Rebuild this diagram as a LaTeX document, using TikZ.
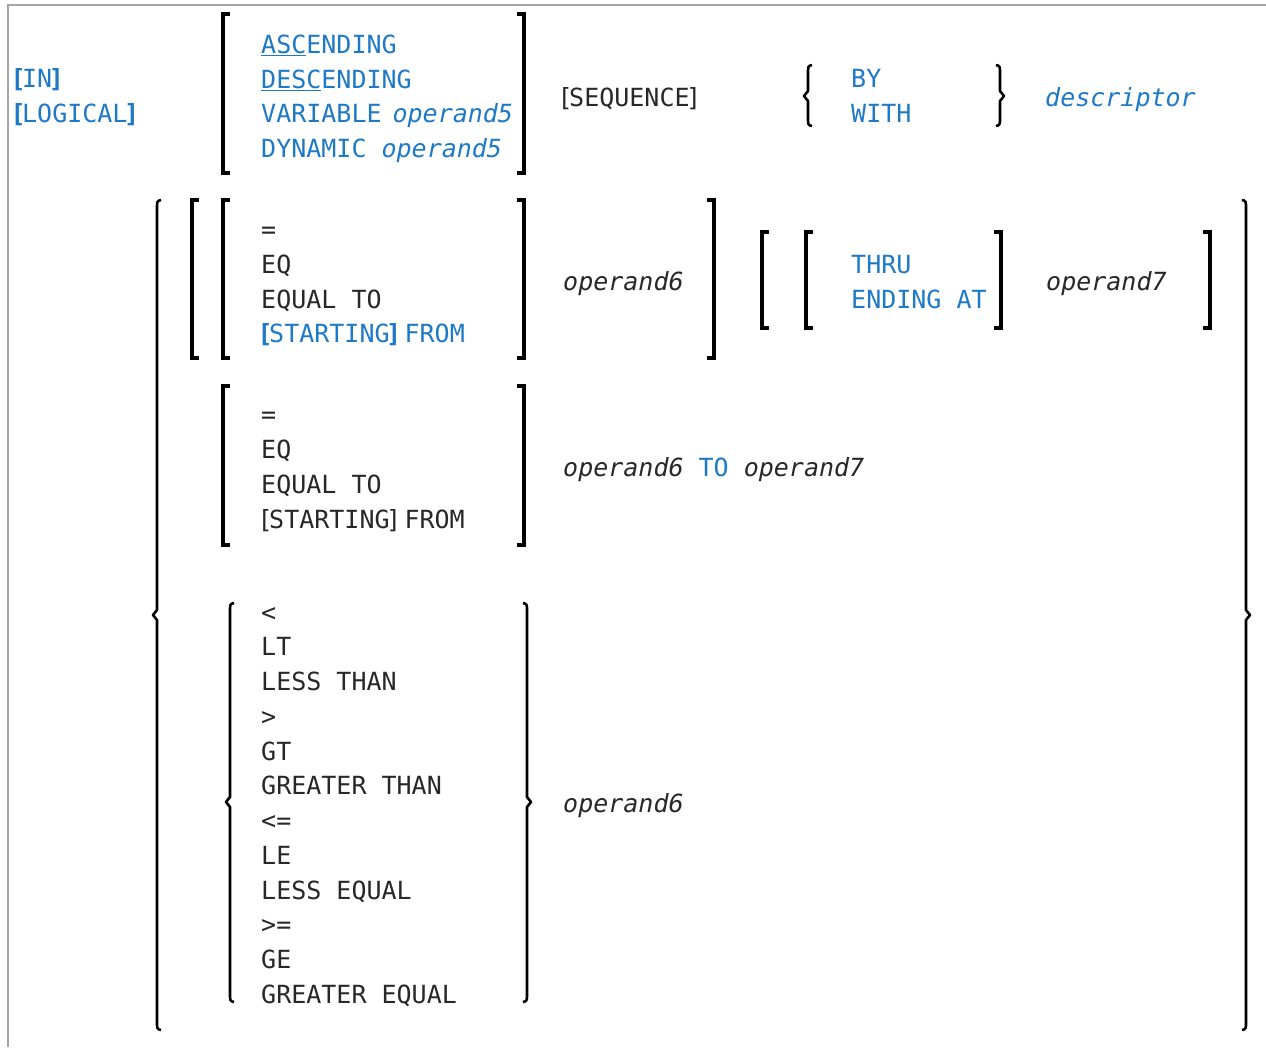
\documentclass[tikz,border=0pt]{standalone}
\usepackage{fontspec}
\setmonofont{DejaVu Sans Mono}
\definecolor{kw}{RGB}{30,122,198}
\definecolor{txt}{RGB}{40,40,40}
\definecolor{frame}{RGB}{165,165,165}
\newcommand\opb{\makebox[8pt][c]{[}}
\newcommand\clb{\makebox[8pt][c]{]}}
\newcommand\opbb{\makebox[8pt][c]{\bfseries[}}
\newcommand\clbb{\makebox[8pt][c]{\bfseries]}}
\newcommand\ulx[1]{\underline{#1}}
% brackets: x, top, bottom
\newcommand\mylb[3]{\draw[brk] ({#1+7},#2) -- (#1,#2) -- (#1,#3) -- ({#1+7},#3);}
\newcommand\myrb[3]{\draw[brk] ({#1-7},#2) -- (#1,#2) -- (#1,#3) -- ({#1-7},#3);}
% braces: x, top, middle, bottom
\newcommand\mylbr[4]{\draw[brc] ({#1+4},#2) .. controls (#1,{#2+1}) .. (#1,{#2+9}) -- (#1,{#3-5}) -- ({#1-4},#3) -- (#1,{#3+5}) -- (#1,{#4-9}) .. controls (#1,{#4-1}) .. ({#1+4},#4);}
\newcommand\myrbr[4]{\draw[brc] ({#1-4},#2) .. controls (#1,{#2+1}) .. (#1,{#2+9}) -- (#1,{#3-5}) -- ({#1+4},#3) -- (#1,{#3+5}) -- (#1,{#4-9}) .. controls (#1,{#4-1}) .. ({#1-4},#4);}
\begin{document}
\begin{tikzpicture}[x=1pt,y=-1pt,
  t/.style={anchor=base west, inner sep=0pt, font=\fontsize{25}{30}\selectfont\ttfamily, text=txt},
  k/.style={t, text=kw},
  it/.style={t, font=\fontsize{25}{30}\selectfont\ttfamily\itshape},
  kit/.style={it, text=kw},
  brk/.style={line width=3.2pt, line join=miter, draw=black},
  brc/.style={line width=2.6pt, line join=round, draw=black}]
\useasboundingbox (0,0) rectangle (1266,1047);
\fill[white] (0,0) rectangle (1266,1047);
\draw[frame, line width=2pt] (8,1047) -- (8,5) -- (1266,5);

% ---- row 1
\node[k] (in) at (14,87) {\opbb IN\clbb};
\node[k] (logical) at (14,122) {\opbb LOGICAL\clbb};
\mylb{223}{14}{173}
\myrb{524}{14}{173}
\node[k] (asc) at (261,53) {\ulx{ASC}ENDING};
\node[k] (desc) at (261,88) {\ulx{DESC}ENDING};
\node[k] (var) at (261,122) {VARIABLE\kern11pt\textit{operand5}};
\node[k] (dyn) at (261,157) {DYNAMIC \textit{operand5}};
\node[t] (seq) at (561,106) {\opb SEQUENCE\clb};
\mylbr{808}{65}{96}{126}
\myrbr{1000}{65}{96}{126}
\node[k] (by) at (851,87) {BY};
\node[k] (with) at (851,122) {WITH};
\node[kit] (descr) at (1045,106) {descriptor};

% ---- outer brace
\mylbr{157}{200}{615}{1030}
\myrbr{1246}{200}{615}{1030}

% ---- row 2a
\mylb{192}{200}{358}
\mylb{223}{200}{358}
\myrb{524}{200}{358}
\myrb{714}{200}{358}
\node[t] (eqa) at (261,238) {=};
\node[t] (eqb) at (261,273) {EQ};
\node[t] (eqc) at (261,308) {EQUAL TO};
\node[k] (sfa) at (261,342) {\opbb STARTING\clbb\kern7pt FROM};
\node[it] (op6a) at (563,290) {operand6};
\mylb{762}{232}{328}
\mylb{806}{232}{328}
\node[k] (thru) at (851,273) {THRU};
\node[k] (endat) at (851,308) {ENDING AT};
\myrb{1001}{232}{328}
\node[it] (op7a) at (1046,290) {operand7};
\myrb{1210}{232}{328}

% ---- row 2b
\mylb{223}{386}{545}
\myrb{524}{386}{545}
\node[t] (eqd) at (261,423) {=};
\node[t] (eqe) at (261,458) {EQ};
\node[t] (eqf) at (261,493) {EQUAL TO};
\node[t] (sfb) at (261,528) {\opb STARTING\clb\kern7pt FROM};
\node[it] (range) at (563,476) {operand6 \textcolor{kw}{\upshape TO} operand7};

% ---- row 2c
\mylbr{230}{603}{802}{1002}
\myrbr{527}{603}{802}{1002}
\foreach \s [count=\i from 0] in {<,LT,LESS THAN,>,GT,GREATER THAN,<=,LE,LESS EQUAL,>=,GE,GREATER EQUAL}
  \node[t] (cmp\i) at (261,{621+34.75*\i}) {\s};
\node[it] (op6c) at (563,812) {operand6};
\end{tikzpicture}
\end{document}
